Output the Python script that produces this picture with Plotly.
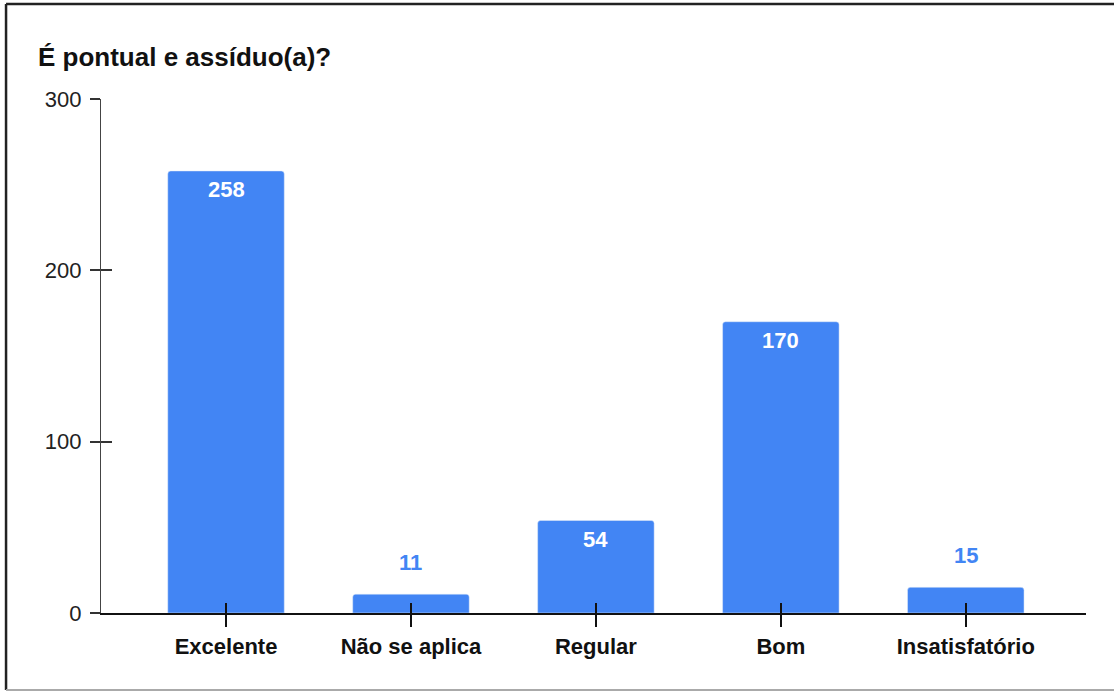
import plotly.graph_objects as go

categories = ["Excelente", "Não se aplica", "Regular", "Bom", "Insatisfatório"]
counts = [258, 11, 54, 170, 15]
y_ticks = [0, 100, 200, 300]

BLUE = "#4285F4"
FONT = "Arial, Liberation Sans, sans-serif"

fig = go.Figure()
fig.add_trace(go.Bar(x=categories, y=counts, width=0.63,
                     marker=dict(color=BLUE, cornerradius=3),
                     hoverinfo="x+y"))
# invisible trace on overlay axes, only used to draw the inner half of the ticks
fig.add_trace(go.Scatter(x=categories, y=counts, xaxis="x2", yaxis="y2",
                         mode="markers", marker=dict(opacity=0),
                         hoverinfo="skip", showlegend=False))

# value labels: inside the tall bars, above the short ones
for cat, val in zip(categories, counts):
    inside = val > 40
    fig.add_annotation(x=cat, y=val, text=f"<b>{val}</b>", showarrow=False,
                       yshift=-19 if inside else 32,
                       font=dict(family=FONT, size=22,
                                 color="white" if inside else BLUE))

xr = [-0.676, 4.65]
yr = [0, 300]
fig.update_layout(
    width=1114, height=693,
    margin=dict(l=101, r=28, t=99, b=80),
    paper_bgcolor="white", plot_bgcolor="white",
    showlegend=False,
    title=dict(text="<b>É pontual e assíduo(a)?</b>", x=38 / 1114, xanchor="left",
               y=1 - 57 / 693, yanchor="middle",
               font=dict(family=FONT, size=26, color="#111")),
    xaxis=dict(type="category", categoryarray=categories, range=xr,
               showgrid=False, showline=True, linecolor="#111", linewidth=2,
               ticks="outside", ticklen=12, tickwidth=1.5, tickcolor="#111",
               ticklabelstandoff=1,
               tickfont=dict(family=FONT, size=22, color="#111", weight="bold")),
    yaxis=dict(range=yr, tickvals=y_ticks, showgrid=False, zeroline=False,
               showline=True, linecolor="#444", linewidth=1.2,
               ticks="outside", ticklen=10, tickwidth=1.5, tickcolor="#333",
               ticklabelstandoff=4,
               tickfont=dict(family=FONT, size=22, color="#222")),
    xaxis2=dict(type="category", categoryarray=categories, range=xr,
                overlaying="x", showgrid=False, showline=False,
                ticks="inside", ticklen=10, tickwidth=1.5, tickcolor="#111",
                showticklabels=False),
    yaxis2=dict(range=yr, tickvals=y_ticks, overlaying="y", showgrid=False,
                zeroline=False, showline=False,
                ticks="inside", ticklen=11, tickwidth=1.5, tickcolor="#333",
                showticklabels=False),
)

# frame around the picture (top/left dark, bottom light)
lx, ty, by = -0.0964, 1.185, -0.1498
fig.add_shape(type="line", xref="paper", yref="paper", x0=lx, x1=1.03, y0=ty, y1=ty,
              line=dict(color="#222", width=2.5))
fig.add_shape(type="line", xref="paper", yref="paper", x0=lx, x1=lx, y0=ty, y1=by,
              line=dict(color="#222", width=2.5))
fig.add_shape(type="line", xref="paper", yref="paper", x0=lx, x1=1.03, y0=by, y1=by,
              line=dict(color="#aaa", width=2))

# drop the default page margin so the figure sits at the window origin
fig.write_html("out.html", config={"displayModeBar": False},
               post_script="document.body.style.margin='0';")
